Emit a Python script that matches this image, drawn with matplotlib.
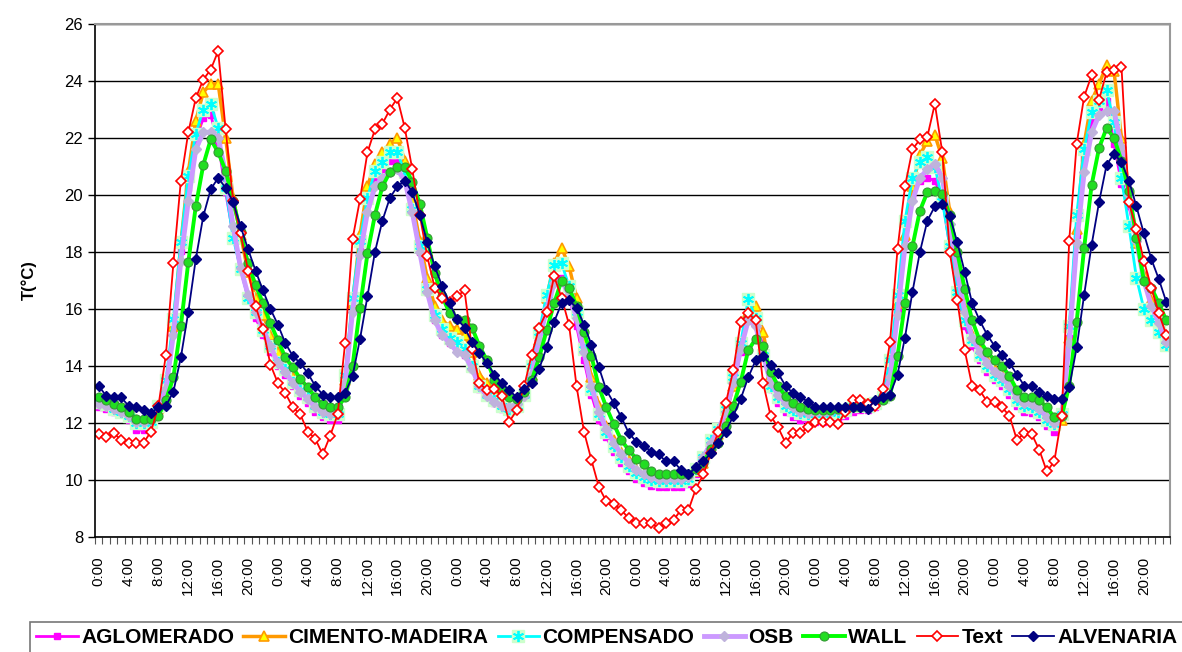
import numpy as np
import matplotlib
matplotlib.use("Agg")
import matplotlib.pyplot as plt

plt.rcParams['font.family'] = ['Liberation Sans', 'DejaVu Sans']

# hourly readings, 6 days
hours = ["0:00", "4:00", "8:00", "12:00", "16:00", "20:00"] * 6

aglomerado = [
    12.55, 12.5, 12.4, 12.3, 12.1, 11.75, 11.75, 11.85, 12.5, 13.3, 15.25, 18.05, 20.25, 21.9, 22.7, 22.8, 21.85, 20.1, 18.6, 17.4, 16.4, 15.7, 15.1, 14.5,
    14.0, 13.7, 13.3, 12.95, 12.7, 12.4, 12.2, 12.1, 12.1, 13.3, 16.0, 18.2, 19.7, 20.6, 20.9, 21.2, 21.2, 20.6, 19.4, 18.0, 16.6, 15.6, 15.1, 14.8,
    14.6, 14.4, 13.9, 13.2, 12.9, 12.7, 12.5, 12.4, 12.5, 12.9, 13.9, 15.0, 16.2, 17.1, 17.1, 16.4, 15.4, 14.2, 13.0, 12.1, 11.5, 11.0, 10.6, 10.3,
    10.05, 9.9, 9.8, 9.75, 9.75, 9.75, 9.75, 9.85, 10.2, 10.6, 11.2, 11.6, 12.3, 13.3, 14.5, 15.8, 15.6, 14.7, 13.2, 12.7, 12.4, 12.2, 12.1, 12.05,
    12.05, 12.05, 12.1, 12.15, 12.25, 12.4, 12.45, 12.45, 12.55, 12.8, 13.7, 16.0, 18.5, 19.9, 20.5, 20.6, 20.5, 19.9, 18.2, 16.7, 15.4, 14.7, 14.2, 13.8,
    13.5, 13.3, 13.0, 12.6, 12.4, 12.35, 12.2, 11.9, 11.7, 12.1, 15.0, 18.6, 21.3, 22.6, 23.0, 23.3, 21.8, 20.4, 19.6, 18.5, 17.2, 16.2, 15.5, 14.8]

cimento = [
    12.8, 12.7, 12.55, 12.45, 12.3, 12.1, 12.1, 12.1, 12.5, 13.2, 15.4, 18.3, 20.8, 22.6, 23.6, 23.9, 23.9, 22.0, 19.9, 18.6, 17.3, 16.4, 15.8, 15.1,
    14.5, 14.0, 13.6, 13.3, 13.0, 12.7, 12.5, 12.4, 12.4, 13.5, 16.2, 18.6, 20.3, 21.1, 21.5, 21.8, 22.0, 21.2, 19.8, 18.4, 17.1, 16.1, 15.6, 15.4,
    15.3, 15.1, 14.5, 13.7, 13.4, 13.1, 12.8, 12.6, 12.6, 13.0, 13.7, 14.9, 16.4, 17.6, 18.15, 17.5, 16.4, 14.9, 13.6, 12.6, 11.9, 11.4, 11.0, 10.7,
    10.4, 10.25, 10.1, 10.0, 10.0, 10.0, 10.0, 10.05, 10.3, 10.6, 11.1, 11.6, 12.3, 13.3, 14.7, 15.9, 16.1, 15.2, 13.7, 13.0, 12.7, 12.5, 12.4, 12.35,
    12.35, 12.35, 12.4, 12.4, 12.5, 12.6, 12.65, 12.65, 12.7, 12.9, 13.6, 16.2, 18.6, 20.3, 21.4, 21.9, 22.1, 21.3, 19.4, 17.6, 16.0, 15.1, 14.6, 14.2,
    13.9, 13.7, 13.4, 13.0, 12.7, 12.7, 12.5, 12.3, 12.0, 12.1, 15.0, 18.8, 21.8, 23.3, 23.9, 24.55, 24.35, 22.0, 20.2, 18.3, 17.2, 16.3, 15.6, 15.0]

compensado = [
    12.75, 12.65, 12.5, 12.4, 12.25, 12.0, 12.0, 12.05, 12.6, 13.5, 15.65, 18.35, 20.65, 22.15, 23.0, 23.2, 22.35, 20.25, 18.5, 17.4, 16.4, 15.9, 15.25, 14.7,
    14.15, 13.9, 13.45, 13.15, 12.9, 12.6, 12.4, 12.3, 12.3, 13.7, 16.4, 18.4, 19.9, 20.85, 21.15, 21.5, 21.5, 20.8, 19.5, 18.2, 16.7, 15.8, 15.3, 15.0,
    14.85, 14.6, 14.0, 13.3, 13.0, 12.8, 12.6, 12.5, 12.6, 13.0, 14.0, 15.2, 16.5, 17.55, 17.6, 16.8, 15.9, 14.6, 13.2, 12.3, 11.7, 11.2, 10.8, 10.5,
    10.25, 10.1, 10.0, 9.95, 9.95, 9.95, 9.95, 10.05, 10.4, 10.8, 11.4, 11.8, 12.5, 13.6, 14.8, 16.35, 15.7, 14.4, 13.3, 12.9, 12.6, 12.45, 12.35, 12.3,
    12.3, 12.3, 12.35, 12.4, 12.45, 12.6, 12.65, 12.6, 12.7, 12.9, 14.2, 16.5, 19.1, 20.6, 21.15, 21.35, 21.0, 19.8, 18.2, 16.6, 15.6, 14.9, 14.4, 14.0,
    13.7, 13.5, 13.2, 12.8, 12.6, 12.55, 12.4, 12.1, 11.95, 12.3, 15.4, 19.3, 21.6, 22.9, 23.3, 23.7, 22.55, 20.6, 18.9, 17.1, 16.0, 15.6, 15.2, 14.75]

osb = [
    12.65, 12.6, 12.5, 12.4, 12.25, 12.05, 12.05, 12.1, 12.55, 13.2, 15.1, 17.7, 19.8, 21.6, 22.2, 22.2, 22.0, 20.75, 18.9, 17.45, 16.5, 15.9, 15.3, 14.7,
    14.1, 13.8, 13.4, 13.1, 12.85, 12.55, 12.4, 12.3, 12.3, 13.4, 15.9, 17.9, 19.4, 20.3, 20.6, 20.8, 20.9, 20.5, 19.4, 18.0, 16.6, 15.6, 15.1, 14.8,
    14.5, 14.4, 13.9, 13.3, 12.95, 12.75, 12.6, 12.55, 12.65, 12.95, 13.7, 14.9, 16.0, 16.9, 17.0, 16.5, 15.7, 14.5, 13.3, 12.4, 11.8, 11.3, 10.9, 10.6,
    10.35, 10.2, 10.1, 10.05, 10.05, 10.05, 10.05, 10.1, 10.45, 10.8, 11.3, 11.75, 12.4, 13.4, 14.6, 15.6, 15.4, 14.4, 13.4, 13.0, 12.7, 12.55, 12.4, 12.35,
    12.35, 12.35, 12.4, 12.45, 12.5, 12.6, 12.65, 12.65, 12.7, 12.9, 13.6, 15.8, 18.2, 19.8, 20.6, 20.9, 21.1, 20.6, 19.0, 17.3, 15.9, 15.0, 14.5, 14.1,
    13.8, 13.6, 13.3, 12.9, 12.7, 12.65, 12.5, 12.2, 12.0, 12.3, 14.8, 18.3, 20.8, 22.2, 22.8, 22.95, 22.95, 21.7, 20.0, 18.4, 17.0, 16.1, 15.5, 14.85]

wall = [
    12.9, 12.8, 12.65, 12.55, 12.4, 12.15, 12.15, 12.15, 12.25, 12.8, 13.6, 15.4, 17.65, 19.6, 21.05, 21.95, 21.5, 20.85, 19.8, 18.7, 17.6, 16.85, 16.2, 15.5,
    14.9, 14.3, 13.95, 13.55, 13.25, 12.9, 12.65, 12.55, 12.55, 12.9, 14.0, 16.05, 17.95, 19.3, 20.3, 20.8, 21.0, 21.0, 20.45, 19.7, 18.5, 17.25, 16.45, 15.85,
    15.65, 15.6, 15.35, 14.7, 14.2, 13.5, 13.15, 12.9, 12.85, 13.1, 13.5, 14.3, 15.25, 16.2, 17.0, 16.75, 16.1, 15.2, 14.35, 13.25, 12.55, 11.95, 11.4, 11.05,
    10.75, 10.55, 10.3, 10.2, 10.2, 10.2, 10.2, 10.2, 10.4, 10.6, 11.1, 11.3, 11.9, 12.6, 13.45, 14.55, 14.95, 14.7, 13.8, 13.3, 12.95, 12.7, 12.55, 12.5,
    12.45, 12.45, 12.45, 12.5, 12.5, 12.55, 12.55, 12.6, 12.7, 12.8, 12.95, 14.35, 16.2, 18.2, 19.45, 20.1, 20.15, 20.05, 19.3, 18.0, 16.7, 15.6, 14.9, 14.5,
    14.2, 14.0, 13.65, 13.15, 12.9, 12.9, 12.8, 12.55, 12.2, 12.25, 13.3, 15.55, 18.15, 20.35, 21.65, 22.35, 22.0, 21.2, 20.15, 18.5, 17.0, 16.75, 16.2, 15.6]

text = [
    11.6, 11.5, 11.65, 11.4, 11.3, 11.3, 11.3, 11.7, 12.6, 14.4, 17.6, 20.5, 22.2, 23.4, 24.05, 24.4, 25.05, 22.3, 19.8, 18.65, 17.35, 16.1, 15.3, 14.05,
    13.4, 13.05, 12.55, 12.3, 11.7, 11.45, 10.9, 11.55, 12.3, 14.8, 18.45, 19.85, 21.5, 22.3, 22.5, 23.0, 23.4, 22.35, 20.9, 19.3, 17.85, 16.75, 16.4, 16.25,
    16.45, 16.65, 14.6, 13.4, 13.15, 13.2, 12.95, 12.05, 12.45, 13.3, 14.4, 15.35, 15.9, 17.15, 16.4, 15.45, 13.3, 11.7, 10.7, 9.75, 9.25, 9.15, 8.95, 8.65,
    8.5, 8.5, 8.5, 8.3, 8.5, 8.6, 8.95, 8.95, 9.7, 10.2, 10.95, 11.7, 12.7, 13.85, 15.55, 15.85, 15.6, 13.4, 12.25, 11.85, 11.3, 11.65, 11.65, 11.85,
    12.05, 12.05, 12.05, 11.95, 12.4, 12.8, 12.8, 12.65, 12.6, 13.2, 14.85, 18.1, 20.3, 21.6, 21.95, 22.05, 23.2, 21.5, 18.0, 16.3, 14.55, 13.3, 13.15, 12.75,
    12.75, 12.55, 12.25, 11.4, 11.65, 11.6, 11.05, 10.3, 10.65, 12.25, 18.4, 21.8, 23.45, 24.2, 23.35, 24.3, 24.4, 24.5, 19.75, 18.8, 17.7, 16.75, 15.85, 15.1]

alvenaria = [
    13.3, 12.95, 12.9, 12.9, 12.6, 12.55, 12.45, 12.35, 12.55, 12.6, 13.1, 14.3, 15.9, 17.75, 19.25, 20.2, 20.6, 20.25, 19.75, 18.9, 18.1, 17.35, 16.65, 16.0,
    15.45, 14.8, 14.35, 14.1, 13.75, 13.3, 13.0, 12.9, 12.9, 13.05, 13.65, 14.95, 16.45, 18.0, 19.1, 19.9, 20.3, 20.5, 20.1, 19.3, 18.35, 17.5, 16.8, 16.2,
    15.65, 15.35, 14.85, 14.45, 14.1, 13.7, 13.4, 13.15, 12.9, 13.2, 13.4, 13.9, 14.65, 15.55, 16.2, 16.3, 16.05, 15.45, 14.75, 13.95, 13.15, 12.7, 12.2, 11.65,
    11.35, 11.2, 11.0, 10.9, 10.65, 10.65, 10.35, 10.2, 10.45, 10.65, 10.95, 11.3, 11.7, 12.25, 12.85, 13.6, 14.2, 14.35, 14.05, 13.75, 13.3, 13.05, 12.9, 12.75,
    12.55, 12.55, 12.55, 12.55, 12.55, 12.55, 12.55, 12.5, 12.8, 12.9, 13.0, 13.7, 15.0, 16.6, 18.0, 19.1, 19.6, 19.7, 19.25, 18.35, 17.3, 16.2, 15.6, 15.1,
    14.7, 14.4, 14.1, 13.7, 13.3, 13.3, 13.1, 12.95, 12.85, 12.85, 13.25, 14.65, 16.5, 18.25, 19.75, 21.05, 21.45, 21.15, 20.5, 19.6, 18.65, 17.75, 17.05, 16.25]

x = np.arange(len(text))

fig = plt.figure(figsize=(11.82, 6.52), dpi=100)
ax = fig.add_axes([95/1182, 1-537/652, (1170-95)/1182, (537-24)/652])

ax.set_ylim(8, 26)
ax.set_xlim(-0.5, len(x) - 0.5)
ax.set_yticks(np.arange(8, 27, 2))
ax.grid(axis='y', color='black', linewidth=1.0, zorder=0)
ax.set_axisbelow(True)

lines = []
l1, = ax.plot(x, aglomerado, color='#FF00FF', lw=2, marker='s', ms=4.5,
              mfc='#FF00FF', mec='#FF00FF')
lines.append(l1)
l2, = ax.plot(x, cimento, color='#FF9900', lw=2.5, marker='^', ms=7,
              mfc='#FFFF00', mec='#FF9900', mew=1.2)
lines.append(l2)
l3a, = ax.plot(x, compensado, color='#00FFFF', lw=2, marker='s', ms=8,
               mfc='#CCFFCC', mec='#CCFFCC')
l3b, = ax.plot(x, compensado, ls='none', marker=(6, 2, 0), ms=8,
               mec='#00FFFF', mew=1.3)
lines.append((l3a, l3b))
l4, = ax.plot(x, osb, color='#CC99FF', lw=3.5, marker='D', ms=5.5,
              mfc='#BFB2DC', mec='#BFB2DC')
lines.append(l4)
l5, = ax.plot(x, wall, color='#00FF00', lw=2.8, marker='o', ms=6.5,
              mfc='#22DD22', mec='#339933', mew=0.8)
lines.append(l5)
l6, = ax.plot(x, text, color='#FF0000', lw=1.3, marker='D', ms=5.5,
              mfc='white', mec='#FF0000', mew=1.2)
lines.append(l6)
l7, = ax.plot(x, alvenaria, color='#000080', lw=1.3, marker='D', ms=5.5,
              mfc='#000080', mec='#000080')
lines.append(l7)

# x axis: label every 4 h, a tick between every hour
ax.set_xticks(np.arange(0, len(x), 4))
ax.set_xticklabels(hours, rotation=90, fontsize=11)
ax.set_xticks(np.arange(-0.5, len(x), 1), minor=True)
ax.tick_params(axis='x', which='major', length=0, pad=14)
ax.tick_params(axis='x', which='minor', length=5, width=0.8, color='#555555')
ax.tick_params(axis='y', labelsize=12, length=5, width=1)

for side in ['top', 'right']:
    ax.spines[side].set_color('#999999')
    ax.spines[side].set_linewidth(1.5)
ax.spines['left'].set_linewidth(1.2)
ax.spines['bottom'].set_linewidth(1.2)

ax.set_ylabel('T(°C)', fontsize=12, fontweight='bold', labelpad=20)

names = ['AGLOMERADO', 'CIMENTO-MADEIRA', 'COMPENSADO', 'OSB', 'WALL', 'Text', 'ALVENARIA']
leg = fig.legend(lines, names, loc='upper left', bbox_to_anchor=(30/1182, 1-622/652),
                 ncol=7, frameon=True, fancybox=False, edgecolor='#555555',
                 prop={'weight': 'bold', 'size': 15}, handlelength=2.0,
                 handletextpad=0.15, columnspacing=0.45, borderpad=0.3,
                 borderaxespad=0)
leg.get_frame().set_linewidth(1.2)

fig.savefig('out.png', dpi=100)
